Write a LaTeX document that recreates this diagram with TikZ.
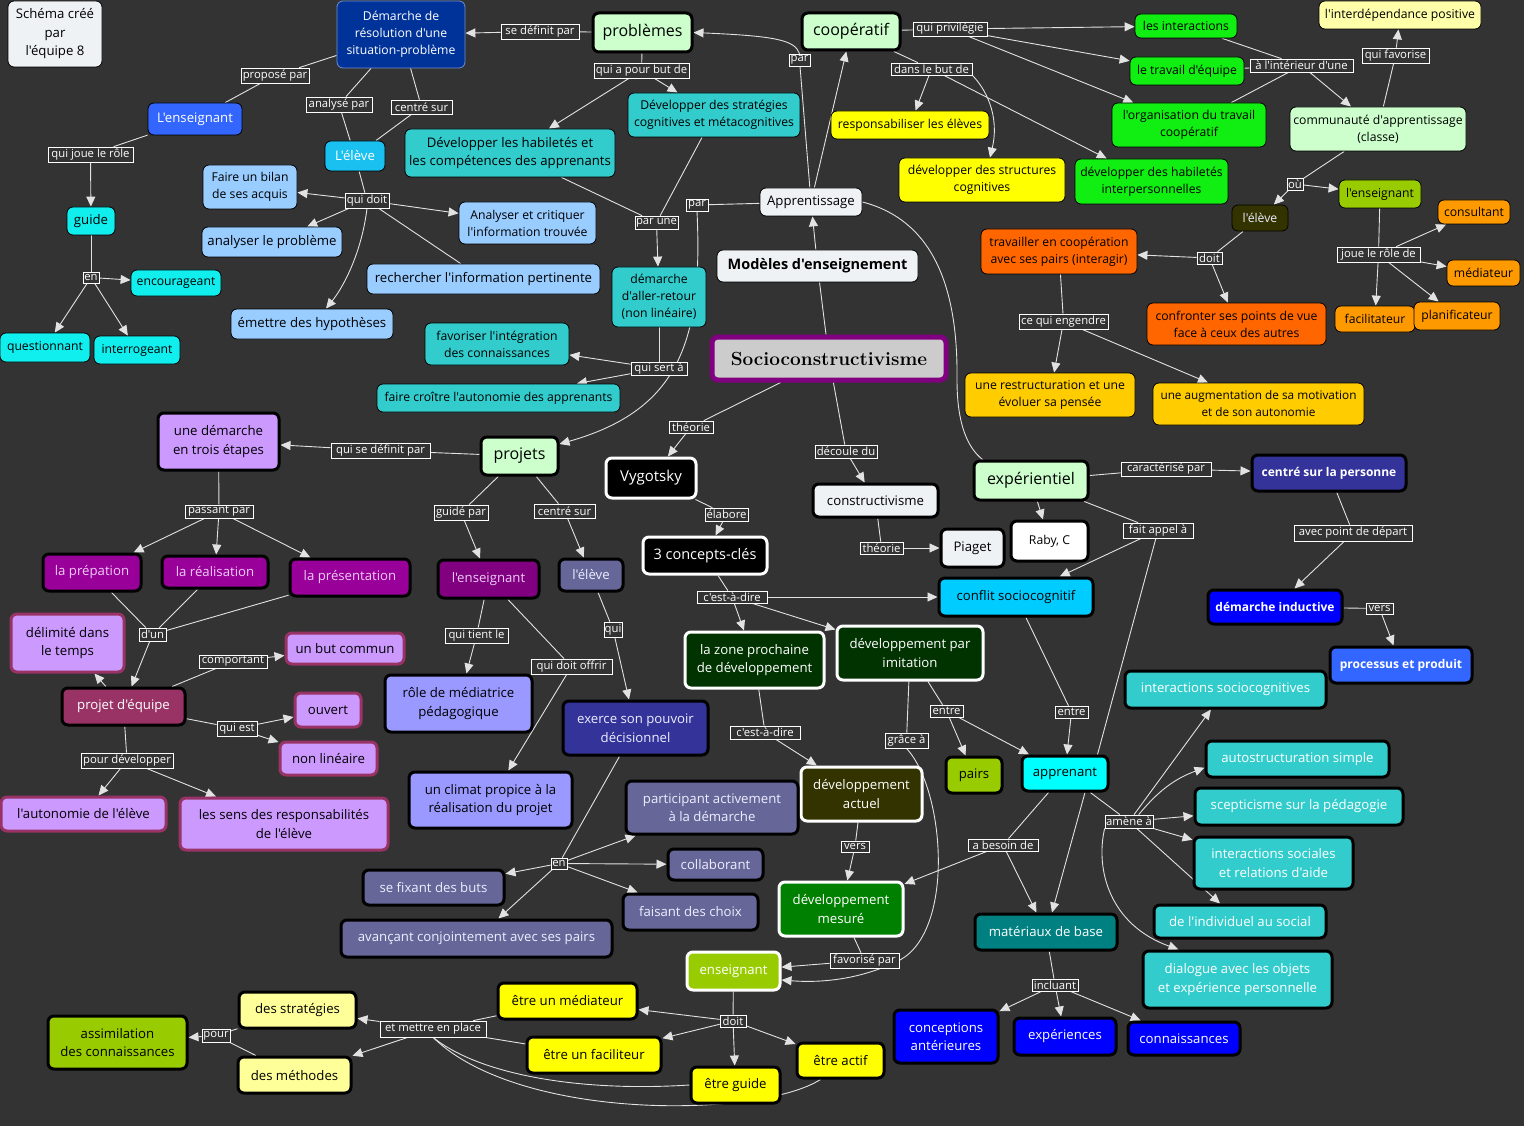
\documentclass[tikz,border=0pt]{standalone}
\usepackage{fontspec}
\newfontfamily\osf{Open Sans}
\usetikzlibrary{arrows.meta,calc}
\pgfdeclarelayer{bgl}\pgfdeclarelayer{edges}\pgfsetlayers{bgl,edges,main}
\definecolor{cbg}{HTML}{333333}
\definecolor{cline}{HTML}{E2E2E2}
\definecolor{cpale}{HTML}{EEF2F5}
\definecolor{cdem}{HTML}{003399}
\definecolor{cdemb}{HTML}{6F8FD0}
\definecolor{cblue3}{HTML}{3366FF}
\definecolor{csky}{HTML}{1AC0F0}
\definecolor{clblue}{HTML}{99CCFF}
\definecolor{ccyan}{HTML}{11EEEE}
\definecolor{cteal}{HTML}{33CCCC}
\definecolor{clgreen}{HTML}{CCFFCC}
\definecolor{cgreen}{HTML}{11EE11}
\definecolor{cyellow}{HTML}{FFFF00}
\definecolor{clyellow}{HTML}{FFFFAA}
\definecolor{clyellowb}{HTML}{FFFF99}
\definecolor{corange}{HTML}{FF6600}
\definecolor{corangeb}{HTML}{FF9900}
\definecolor{cgold}{HTML}{FFCC00}
\definecolor{colive}{HTML}{99CC00}
\definecolor{cdolive}{HTML}{333300}
\definecolor{clpurple}{HTML}{CC99FF}
\definecolor{cmaroon}{HTML}{993366}
\definecolor{cmagenta}{HTML}{990099}
\definecolor{cpurple}{HTML}{800080}
\definecolor{cslate}{HTML}{666699}
\definecolor{cperi}{HTML}{9999FF}
\definecolor{cnavy}{HTML}{333399}
\definecolor{cblue}{HTML}{0000FF}
\definecolor{cdgreen}{HTML}{003300}
\definecolor{cgreenb}{HTML}{008000}
\definecolor{cdteal}{HTML}{008080}
\definecolor{cskyb}{HTML}{00CCFF}
\definecolor{caqua}{HTML}{00FFFF}
\definecolor{csocio}{HTML}{CCCCCC}
\definecolor{cpink}{HTML}{EECCF5}
\definecolor{clight}{HTML}{EEEEFF}
\newcommand\nd[7]{%
 \pgfmathsetmacro\ndw{#4-#2}\pgfmathsetmacro\ndh{#5-#3}%
 \pgfmathsetmacro\ndx{(#2+#4)/2}\pgfmathsetmacro\ndy{(#3+#5)/2}%
 \node[#6,minimum width=\ndw pt,minimum height=\ndh pt] (#1) at (\ndx,\ndy) {#7};}
\newcommand\lb[6]{\nd{#1}{#2}{#3}{#4}{#5}{lbl}{#6}}
\tikzset{
 bx/.style={rectangle,rounded corners=6pt,align=center,inner xsep=2pt,inner ysep=1pt,font=\osf\fontsize{13.2}{18.5}\selectfont,text=black},
 tn/.style={bx,draw=black,line width=0.8pt},
 tk/.style={bx,draw=black,line width=3pt},
 wt/.style={bx,draw=white,line width=3pt},
 mr/.style={bx,draw=cmaroon,line width=3pt},
 sm/.style={font=\osf\fontsize{12.2}{17}\selectfont},
 lg/.style={font=\osf\fontsize{16}{18}\selectfont},
 bd/.style={font=\osf\bfseries\fontsize{12}{14}\selectfont},
 lbl/.style={rectangle,draw=white,line width=0.7pt,fill=cbg,text=white,inner sep=0.5pt,font=\osf\fontsize{11.3}{12.5}\selectfont},
 ln/.style={draw=cline,line width=0.9pt},
 ar/.style={ln,-{Triangle[length=10pt,width=9pt]}},
}
\begin{document}
\begin{tikzpicture}[x=1pt,y=-1pt]
\begin{pgfonlayer}{bgl}
\fill[cbg] (0,0) rectangle (1524,1126);
\end{pgfonlayer}
\useasboundingbox (0,0) rectangle (1524,1126);
% ---------- nodes ----------
\nd{schema}{8}{1}{102}{67}{tn,fill=cpale}{Schéma créé\\par\\l'équipe 8}
\nd{dem}{337}{1}{465}{68}{bx,draw=cdemb,line width=0.8pt,fill=cdem,text=white,sm}{Démarche de\\résolution d'une\\situation-problème}
\nd{ensB}{148}{103}{242}{135}{tn,fill=cblue3,text=white}{L'enseignant}
\nd{elevB}{325}{141}{385}{171}{tn,fill=csky,text=white}{L'élève}
\nd{bilan}{203}{165}{297}{209}{tn,fill=clblue,sm}{Faire un bilan\\de ses acquis}
\nd{analyser}{202}{227}{342}{257}{tn,fill=clblue}{analyser le problème}
\nd{emettre}{231}{309}{393}{339}{tn,fill=clblue}{émettre des hypothèses}
\nd{recherch}{367}{264}{600}{294}{tn,fill=clblue}{rechercher l'information pertinente}
\nd{critiq}{459}{202}{596}{244}{tn,fill=clblue,sm}{Analyser et critiquer\\l'information trouvée}
\nd{guide}{67}{207}{115}{235}{tn,fill=ccyan}{guide}
\nd{encour}{131}{270}{221}{296}{tn,fill=ccyan,sm}{encourageant}
\nd{question}{0}{333}{90}{362}{tn,fill=ccyan,sm}{questionnant}
\nd{interrog}{94}{336}{180}{364}{tn,fill=ccyan,sm}{interrogeant}
\nd{prob}{593}{13}{692}{52}{tk,fill=clgreen,lg}{problèmes}
\nd{strat}{628}{93}{800}{137}{tn,fill=cteal,sm}{Développer des stratégies\\cognitives et métacognitives}
\nd{habil}{405}{129}{615}{177}{tn,fill=cteal}{Développer les habiletés et\\les compétences des apprenants}
\nd{aller}{612}{267}{706}{327}{tn,fill=cteal,sm}{démarche\\d'aller-retour\\(non linéaire)}
\nd{favor}{425}{323}{569}{365}{tn,fill=cteal,sm}{favoriser l'intégration\\des connaissances}
\nd{croitre}{377}{384}{620}{412}{tn,fill=cteal,sm}{faire croître l'autonomie des apprenants}
\nd{modeles}{717}{250}{918}{282}{tn,fill=cpale,font=\osf\bfseries\fontsize{14.5}{17}\selectfont}{Modèles d'enseignement}
\nd{socio}{712}{337}{946}{380}{bx,draw=cpurple,line width=5pt,fill=csocio,font=\rmfamily\bfseries\fontsize{19}{22}\selectfont}{Socioconstructivisme}
\nd{coop}{802}{13}{900}{50}{tk,fill=clgreen,lg}{coopératif}
\nd{respons}{831}{111}{989}{139}{tn,fill=cyellow,sm}{responsabiliser les élèves}
\nd{struct}{899}{158}{1065}{202}{tn,fill=cyellow,sm}{développer des structures\\cognitives}
\nd{appr}{760}{188}{862}{216}{tn,fill=cpale}{Apprentissage}
\nd{travail}{981}{229}{1137}{274}{tn,fill=corange,sm}{travailler en coopération\\avec ses pairs (interagir)}
\nd{inter}{1135}{14}{1237}{38}{tn,fill=cgreen,sm}{les interactions}
\nd{equipe}{1130}{57}{1244}{85}{tn,fill=cgreen,sm}{le travail d'équipe}
\nd{organis}{1112}{103}{1266}{147}{tn,fill=cgreen,sm}{l'organisation du travail\\coopératif}
\nd{interp}{1075}{159}{1228}{204}{tn,fill=cgreen,sm}{développer des habiletés\\interpersonnelles}
\nd{interdep}{1319}{1}{1481}{29}{tn,fill=clyellow,sm}{l'interdépendance positive}
\nd{commun}{1290}{107}{1466}{151}{tn,fill=clgreen,sm}{communauté d'apprentissage\\(classe)}
\nd{eleveD}{1232}{205}{1288}{231}{tn,fill=cdolive,text=clight,sm}{l'élève}
\nd{ensO}{1339}{180}{1421}{208}{tn,fill=colive,sm}{l'enseignant}
\nd{consult}{1438}{200}{1510}{224}{tn,fill=corangeb,sm}{consultant}
\nd{mediat}{1447}{260}{1520}{286}{tn,fill=corangeb,sm}{médiateur}
\nd{facilit}{1335}{306}{1415}{332}{tn,fill=corangeb,sm}{facilitateur}
\nd{planif}{1414}{302}{1500}{330}{tn,fill=corangeb,sm}{planificateur}
\nd{confront}{1147}{303}{1326}{345}{tn,fill=corange,sm}{confronter ses points de vue\\face à ceux des autres}
\nd{restruct}{965}{373}{1135}{417}{tn,fill=cgold,sm}{une restructuration  et une\\évoluer sa pensée}
\nd{augment}{1153}{383}{1364}{425}{tn,fill=cgold,font=\osf\fontsize{11.8}{17}\selectfont}{une augmentation de sa motivation\\et de son autonomie}
\nd{demarche3}{158}{413}{279}{470}{tk,fill=clpurple}{une démarche\\en trois étapes}
\nd{projets}{481}{437}{558}{475}{tk,fill=clgreen,lg}{projets}
\nd{prep}{43}{554}{141}{591}{tk,fill=cmagenta,text=cpink}{la prépation}
\nd{real}{162}{556}{268}{588}{tk,fill=cmagenta,text=cpink}{la réalisation}
\nd{present}{290}{559}{410}{596}{tk,fill=cmagenta,text=cpink}{la présentation}
\nd{delim}{11}{614}{124}{672}{mr,fill=clpurple}{délimité dans\\le temps}
\nd{but}{286}{633}{404}{664}{mr,fill=clpurple}{un but commun}
\nd{projeq}{62}{688}{185}{725}{tk,fill=cmaroon,text=white}{projet d'équipe}
\nd{ouvert}{295}{693}{361}{727}{mr,fill=clpurple}{ouvert}
\nd{nonlin}{280}{742}{377}{775}{mr,fill=clpurple}{non linéaire}
\nd{autonom}{1}{797}{166}{831}{mr,fill=clpurple}{l'autonomie de l'élève}
\nd{sens}{180}{798}{388}{850}{mr,fill=clpurple}{les sens des responsabilités\\de l'élève}
\nd{vygot}{606}{458}{696}{498}{wt,fill=black,text=white,font=\osf\fontsize{15}{17}\selectfont}{Vygotsky}
\nd{concepts}{643}{537}{767}{574}{wt,fill=black,text=white,font=\osf\fontsize{14.5}{17}\selectfont}{3 concepts-clés}
\nd{ensP}{438}{560}{539}{598}{tk,fill=cpurple,text=cpink}{l'enseignant}
\nd{eleveS}{559}{559}{623}{591}{tk,fill=cslate,text=clight}{l'élève}
\nd{mediatrice}{385}{675}{532}{732}{tk,fill=cperi}{rôle de médiatrice\\pédagogique}
\nd{exerce}{563}{701}{708}{755}{tk,fill=cnavy,text=clight}{exerce son pouvoir\\décisionnel}
\nd{zone}{685}{632}{824}{688}{wt,fill=cdgreen,text=white}{la zone prochaine\\de développement}
\nd{constr}{813}{484}{938}{517}{tk,fill=cpale}{constructivisme}
\nd{piaget}{941}{529}{1004}{567}{tk,fill=cpale}{Piaget}
\nd{raby}{1011}{521}{1088}{561}{tk,fill=white,sm}{Raby, C}
\nd{exper}{974}{461}{1088}{500}{tk,fill=clgreen,lg}{expérientiel}
\nd{conflit}{939}{578}{1093}{616}{tk,fill=cskyb}{conflit sociocognitif}
\nd{imitation}{837}{626}{983}{680}{wt,fill=cdgreen,text=white}{développement par\\imitation}
\nd{centre}{1252}{455}{1406}{491}{tk,fill=cnavy,text=white,bd}{centré sur la personne}
\nd{inductive}{1208}{590}{1342}{624}{tk,fill=cblue,text=white,bd}{démarche inductive}
\nd{processus}{1330}{647}{1472}{683}{tk,fill=cblue3,text=white,bd}{processus et produit}
\nd{intsocio}{1125}{671}{1326}{708}{tk,fill=cteal,text=white}{interactions sociocognitives}
\nd{autostr}{1206}{741}{1389}{777}{tk,fill=cteal,text=white}{autostructuration simple}
\nd{scept}{1195}{788}{1403}{825}{tk,fill=cteal,text=white}{scepticisme sur la pédagogie}
\nd{intsoc}{1194}{837}{1353}{889}{tk,fill=cteal,text=white}{interactions sociales\\et relations d'aide}
\nd{individ}{1154}{905}{1326}{938}{tk,fill=cteal,text=white}{de l'individuel au social}
\nd{dialogue}{1143}{951}{1332}{1008}{tk,fill=cteal,text=white}{dialogue avec les objets\\et expérience personnelle}
\nd{connais}{1128}{1022}{1240}{1055}{tk,fill=cblue,text=white}{connaissances}
\nd{apprenant}{1022}{756}{1108}{791}{tk,fill=caqua}{apprenant}
\nd{pairs}{946}{757}{1002}{793}{tk,fill=colive}{pairs}
\nd{actuel}{801}{767}{922}{821}{wt,fill=cdolive,text=white}{développement\\actuel}
\nd{mesure}{779}{882}{903}{936}{wt,fill=cgreenb,text=white}{développement\\mesuré}
\nd{materiaux}{975}{914}{1117}{950}{tk,fill=cdteal,text=white}{matériaux de base}
\nd{ensOl}{687}{952}{780}{990}{wt,fill=colive,text=white}{enseignant}
\nd{concep}{894}{1010}{998}{1063}{tk,fill=cblue,text=white}{conceptions\\antérieures}
\nd{experiences}{1014}{1018}{1116}{1055}{tk,fill=cblue,text=white}{expériences}
\nd{actif}{797}{1043}{884}{1078}{tk,fill=cyellow}{être actif}
\nd{climat}{409}{772}{572}{828}{tk,fill=cperi}{un climat propice à la\\réalisation du projet}
\nd{particip}{626}{781}{798}{834}{tk,fill=cslate,text=clight}{participant activement\\à la démarche}
\nd{collab}{668}{849}{763}{880}{tk,fill=cslate,text=clight}{collaborant}
\nd{fixant}{363}{870}{504}{905}{tk,fill=cslate,text=clight}{se fixant des buts}
\nd{choix}{623}{894}{758}{930}{tk,fill=cslate,text=clight}{faisant des choix}
\nd{avancant}{341}{920}{612}{957}{tk,fill=cslate,text=clight}{avançant conjointement avec ses pairs}
\nd{etreMed}{498}{983}{637}{1019}{tk,fill=cyellow}{être un médiateur}
\nd{etreFac}{527}{1037}{661}{1073}{tk,fill=cyellow}{être un faciliteur}
\nd{etreGuide}{691}{1067}{780}{1103}{tk,fill=cyellow}{être guide}
\nd{strategies}{239}{992}{356}{1028}{tk,fill=clyellowb}{des stratégies}
\nd{methodes}{238}{1057}{351}{1093}{tk,fill=clyellowb}{des méthodes}
\nd{assim}{48}{1016}{187}{1069}{tk,fill=colive}{assimilation\\des connaissances}
% ---------- labels ----------
\lb{lSedef}{501}{24}{579}{39}{se définit par}
\lb{lPropose}{241}{68}{309}{83}{proposé par}
\lb{lAnalyse}{306}{97}{372}{112}{analysé par}
\lb{lCentre1}{391}{100}{452}{114}{centré sur}
\lb{lQuiJoue}{48}{147}{133}{162}{qui joue le rôle}
\lb{lEn1}{83}{272}{99}{283}{en}
\lb{lQuiDoit}{345}{193}{389}{208}{qui doit}
\lb{lButDe}{594}{63}{689}{78}{qui a pour but de}
\lb{lParUne}{635}{216}{678}{229}{par une}
\lb{lPar1}{686}{199}{708}{211}{par}
\lb{lQuiSert}{631}{362}{687}{375}{qui sert à}
\lb{lPar2}{789}{54}{810}{66}{par}
\lb{lPrivil}{913}{22}{987}{36}{qui privilégie}
\lb{lDansBut}{891}{63}{972}{75}{dans le but de}
\lb{lInterieur}{1250}{59}{1353}{72}{à l'intérieur d'une}
\lb{lFavorise}{1362}{48}{1429}{63}{qui favorise}
\lb{lOu}{1287}{178}{1303}{190}{où}
\lb{lDoit1}{1197}{252}{1222}{264}{doit}
\lb{lJoue}{1337}{247}{1420}{262}{joue le rôle de}
\lb{lEngendre}{1019}{314}{1108}{329}{ce qui engendre}
\lb{lTheorie1}{669}{421}{713}{433}{théorie}
\lb{lDecoule}{815}{445}{877}{458}{découle du}
\lb{lQuiSeDef}{331}{443}{430}{458}{qui se définit par}
\lb{lPassant}{185}{505}{253}{518}{passant par}
\lb{lDun}{139}{628}{166}{641}{d'un}
\lb{lComport}{199}{655}{267}{668}{comportant}
\lb{lQuiEst}{217}{721}{257}{736}{qui est}
\lb{lPourDev}{81}{753}{173}{768}{pour développer}
\lb{lGuide}{434}{505}{488}{520}{guidé par}
\lb{lCentre2}{534}{504}{595}{518}{centré sur}
\lb{lElabore}{705}{508}{748}{521}{élabore}
\lb{lCadA}{697}{591}{767}{603}{c'est-à-dire}
\lb{lQuiTient}{445}{628}{508}{643}{qui tient le}
\lb{lQui}{604}{622}{622}{637}{qui}
\lb{lOffrir}{531}{659}{612}{674}{qui doit offrir}
\lb{lCadB}{730}{726}{800}{739}{c'est-à-dire}
\lb{lTheorie2}{860}{542}{903}{554}{théorie}
\lb{lEntre1}{930}{705}{963}{717}{entre}
\lb{lEntre2}{1055}{706}{1088}{718}{entre}
\lb{lGrace}{885}{733}{928}{748}{grâce à}
\lb{lCaract}{1121}{462}{1211}{476}{caractérisé par}
\lb{lFait}{1123}{523}{1193}{538}{fait appel à}
\lb{lPoint}{1294}{525}{1412}{541}{avec point de départ}
\lb{lVers1}{1366}{603}{1393}{614}{vers}
\lb{lVers2}{841}{841}{869}{852}{vers}
\lb{lBesoin}{968}{839}{1038}{851}{a besoin de}
\lb{lAmene}{1105}{815}{1153}{828}{amène à}
\lb{lFavPar}{830}{953}{899}{968}{favorisé par}
\lb{lIncluant}{1032}{979}{1078}{991}{incluant}
\lb{lEn2}{551}{858}{567}{869}{en}
\lb{lDoit2}{720}{1015}{746}{1027}{doit}
\lb{lMettre}{380}{1021}{486}{1037}{et mettre en place}
\lb{lPour}{202}{1029}{230}{1042}{pour}
% ---------- connectors ----------
\begin{pgfonlayer}{edges}
\draw[ln] (prob) -- (lSedef); \draw[ar] (lSedef) -- (dem);
\draw[ln] (dem) -- (lPropose); \draw[ln] (lPropose) -- (ensB);
\draw[ln] (ensB) -- (lQuiJoue); \draw[ar] (lQuiJoue) -- (guide);
\draw[ln] (guide) -- (lEn1); \draw[ar] (lEn1) -- (encour); \draw[ar] (lEn1) -- (question); \draw[ar] (lEn1) -- (interrog);
\draw[ln] (dem) -- (lAnalyse); \draw[ln] (lAnalyse) -- (elevB);
\draw[ln] (dem) -- (lCentre1); \draw[ln] (lCentre1) -- (elevB);
\draw[ln] (elevB) -- (lQuiDoit);
\draw[ar] (lQuiDoit) -- (bilan); \draw[ar] (lQuiDoit) -- (analyser); \draw[ar] (lQuiDoit) -- (critiq);
\draw[ln] (lQuiDoit) -- (recherch);
\draw[ar] (lQuiDoit.south) .. controls (362,250) and (345,285) .. ($(emettre.north)+(14,0)$);
\draw[ln] (prob) -- (lButDe); \draw[ar] (lButDe) -- (habil); \draw[ar] (lButDe) -- (strat);
\draw[ln] (habil) -- (lParUne); \draw[ln] (strat) -- (lParUne); \draw[ar] (lParUne) -- (aller);
\draw[ln] (aller) -- (lQuiSert); \draw[ar] (lQuiSert) -- (favor); \draw[ar] (lQuiSert) -- (croitre);
\draw[ln] (appr) -- (lPar1);
\draw[ar] (lPar1.south) .. controls (703,340) and (680,410) .. ($(projets.east)+(0,-12)$);
\draw[ln] (appr) -- (lPar2);
\draw[ar] (lPar2.north) .. controls (795,40) and (775,36) .. (prob.east);
\draw[ar] (appr) -- (coop);
\draw[ar] (modeles) -- (appr);
\draw[ln] (socio) -- (modeles);
\draw[ln] (appr.east) .. controls (940,222) and (958,300) .. (957,380) .. controls (957,425) and (968,448) .. ($(exper.north west)+(10,0)$);
\draw[ln] (coop) -- (lPrivil); \draw[ar] (lPrivil) -- (inter); \draw[ar] (lPrivil) -- (equipe); \draw[ar] (lPrivil) -- (organis);
\draw[ln] (coop) -- (lDansBut); \draw[ar] (lDansBut) -- (respons); \draw[ar] (lDansBut) -- (interp);
\draw[ar] (lDansBut.south east) .. controls (985,88) and (1000,115) .. ($(struct.north)+(8,0)$);
\draw[ln] (inter) -- (lInterieur); \draw[ln] (equipe) -- (lInterieur); \draw[ln] (organis) -- (lInterieur); \draw[ar] (lInterieur) -- (commun);
\draw[ln] (commun) -- (lFavorise); \draw[ar] (lFavorise) -- (interdep);
\draw[ln] (commun) -- (lOu); \draw[ar] (lOu) -- (eleveD); \draw[ar] (lOu) -- (ensO);
\draw[ln] (eleveD) -- (lDoit1); \draw[ar] (lDoit1) -- (travail); \draw[ar] (lDoit1) -- (confront);
\draw[ln] (ensO) -- (lJoue); \draw[ar] (lJoue) -- (consult); \draw[ar] (lJoue) -- (mediat); \draw[ar] (lJoue) -- (facilit); \draw[ar] (lJoue) -- (planif);
\draw[ln] (travail) -- (lEngendre); \draw[ar] (lEngendre) -- (restruct); \draw[ar] (lEngendre) -- (augment);
\draw[ln] (socio) -- (lTheorie1); \draw[ar] (lTheorie1) -- (vygot);
\draw[ln] (socio) -- (lDecoule); \draw[ar] (lDecoule) -- (constr);
\draw[ln] (vygot) -- (lElabore); \draw[ar] (lElabore) -- (concepts);
\draw[ln] (concepts) -- (lCadA); \draw[ar] (lCadA) -- (zone); \draw[ar] (lCadA) -- (imitation); \draw[ar] (lCadA) -- (conflit);
\draw[ln] (zone) -- (lCadB); \draw[ar] (lCadB) -- (actuel);
\draw[ln] (actuel) -- (lVers2); \draw[ar] (lVers2) -- (mesure);
\draw[ln] (mesure) -- (lFavPar); \draw[ar] (lFavPar) -- (ensOl);
\draw[ln] (imitation) -- (lGrace);
\draw[ar] (lGrace.south) .. controls (945,790) and (955,930) .. (900,960) .. controls (860,980) and (820,983) .. ($(ensOl.east)+(0,9)$);
\draw[ln] (imitation) -- (lEntre1); \draw[ar] (lEntre1) -- (pairs); \draw[ar] (lEntre1) -- (apprenant);
\draw[ln] (conflit) -- (lEntre2); \draw[ar] (lEntre2) -- (apprenant);
\draw[ln] (constr) -- (lTheorie2); \draw[ar] (lTheorie2) -- (piaget);
\draw[ar] (exper) -- (raby);
\draw[ln] (exper) -- (lCaract); \draw[ar] (lCaract) -- (centre);
\draw[ln] (exper) -- (lFait); \draw[ar] (lFait) -- (conflit);
\draw[ln] (lFait) -- ($(apprenant.north east)+(-12,0)$);
\draw[ln] (centre) -- (lPoint); \draw[ar] (lPoint) -- (inductive);
\draw[ln] (inductive) -- (lVers1); \draw[ar] (lVers1) -- (processus);
\draw[ln] (apprenant) -- (lBesoin); \draw[ar] (lBesoin) -- (mesure); \draw[ar] (lBesoin) -- (materiaux);
\draw[ar] ($(apprenant.south)+(20,0)$) -- ($(materiaux.north)+(6,0)$);
\draw[ln] (apprenant) -- (lAmene);
\draw[ar] (lAmene) -- (intsocio);
\draw[ar] (lAmene) to[bend left=15] (autostr);
\draw[ar] (lAmene) -- (scept);
\draw[ar] (lAmene) -- (intsoc);
\draw[ar] (lAmene) -- (individ);
\draw[ar] (lAmene.south west) .. controls (1095,870) and (1110,925) .. ($(dialogue.north west)+(37,0)$);
\draw[ln] (materiaux) -- (lIncluant); \draw[ar] (lIncluant) -- (concep); \draw[ar] (lIncluant) -- (experiences); \draw[ar] (lIncluant) -- (connais);
\draw[ln] (ensOl) -- (lDoit2); \draw[ar] (lDoit2) -- (etreMed); \draw[ar] (lDoit2) -- (etreFac); \draw[ar] (lDoit2) -- (etreGuide); \draw[ar] (lDoit2) -- (actif);
\draw[ln] (etreMed) -- (lMettre); \draw[ln] (etreFac) -- (lMettre);
\draw[ln] (etreGuide.west) .. controls (580,1092) and (480,1075) .. (lMettre.south);
\draw[ln] ($(actif.south west)+(25,0)$) .. controls (760,1118) and (520,1122) .. (lMettre.south);
\draw[ar] (lMettre) -- (strategies); \draw[ar] (lMettre) -- (methodes);
\draw[ln] (strategies) -- (lPour); \draw[ln] (methodes) -- (lPour); \draw[ar] (lPour) -- (assim);
\draw[ln] (projets) -- (lQuiSeDef); \draw[ar] (lQuiSeDef) -- (demarche3);
\draw[ln] (demarche3) -- (lPassant); \draw[ar] (lPassant) -- (prep); \draw[ar] (lPassant) -- (real); \draw[ar] (lPassant) -- (present);
\draw[ln] (prep) -- (lDun); \draw[ln] (real) -- (lDun); \draw[ln] (present) -- (lDun); \draw[ar] (lDun) -- (projeq);
\draw[ar] (projeq) -- (delim);
\draw[ln] (projeq) -- (lComport); \draw[ar] (lComport) -- (but);
\draw[ln] (projeq) -- (lQuiEst); \draw[ar] (lQuiEst) -- (ouvert); \draw[ar] (lQuiEst) -- (nonlin);
\draw[ln] (projeq) -- (lPourDev); \draw[ar] (lPourDev) -- (autonom); \draw[ar] (lPourDev) -- (sens);
\draw[ln] (projets) -- (lGuide); \draw[ar] (lGuide) -- (ensP);
\draw[ln] (projets) -- (lCentre2); \draw[ar] (lCentre2) -- (eleveS);
\draw[ln] (ensP) -- (lQuiTient); \draw[ar] (lQuiTient) -- (mediatrice);
\draw[ln] (ensP) -- (lOffrir); \draw[ar] (lOffrir) -- (climat);
\draw[ln] (eleveS) -- (lQui); \draw[ar] (lQui) -- (exerce);
\draw[ln] (exerce) -- (lEn2); \draw[ar] (lEn2) -- (particip); \draw[ar] (lEn2) -- (collab); \draw[ar] (lEn2) -- (fixant); \draw[ar] (lEn2) -- (choix); \draw[ar] (lEn2) -- (avancant);
\end{pgfonlayer}
\end{tikzpicture}
\end{document}
